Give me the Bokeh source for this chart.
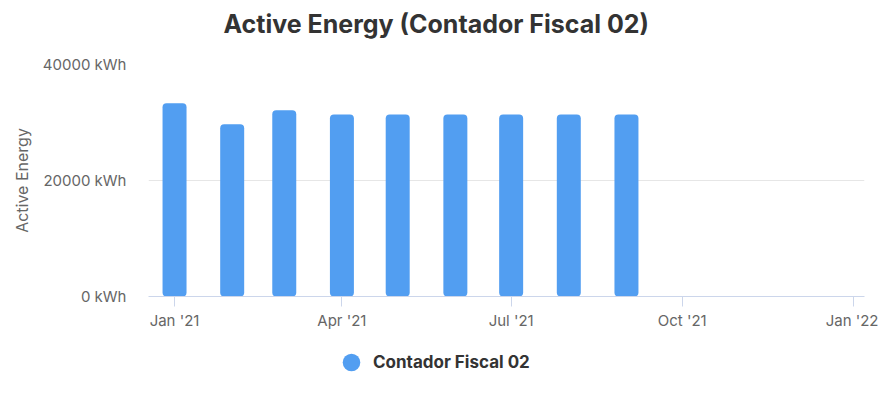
from datetime import datetime
from bokeh.plotting import figure
from bokeh.layouts import column
from bokeh.models import (ColumnDataSource, FixedTicker, DatetimeTickFormatter,
                          PrintfTickFormatter, Legend, LegendItem, Range1d, Title)
from bokeh.embed import file_html
from bokeh.resources import INLINE

# ---- data ----
months = ["2021-01-01", "2021-02-01", "2021-03-01", "2021-04-01", "2021-05-01",
          "2021-06-01", "2021-07-01", "2021-08-01", "2021-09-01"]
energy_kwh = [33300, 29700, 32100, 31400, 31400, 31400, 31400, 31400, 31400]
series_name = "Contador Fiscal 02"
x_tick_dates = ["2021-01-01", "2021-04-01", "2021-07-01", "2021-10-01", "2022-01-01"]
y_ticks = [0, 20000, 40000]
x_start, x_end = "2020-12-18", "2022-01-07"

def ms(s):
    return (datetime.fromisoformat(s) - datetime(1970, 1, 1)).total_seconds() * 1000.0

DAY = 86400000.0
BAR_COLOR = "#529ef1"

src = ColumnDataSource(dict(x=[ms(m) for m in months], y=energy_kwh))

p = figure(frame_width=716, frame_height=232, output_backend="svg", toolbar_location=None,
           x_axis_type="datetime",
           x_range=Range1d(ms(x_start), ms(x_end)),
           y_range=Range1d(0, 40000),
           min_border_left=148, min_border_right=14, min_border_top=64,
           min_border_bottom=34)
p.outline_line_color = None
p.background_fill_color = "white"

bars = p.vbar(x="x", top="y", width=12.9 * DAY, source=src, fill_color=BAR_COLOR,
              line_color=None, border_radius=4)

# spacer between title and frame
p.add_layout(Title(text=" ", text_font_size="10px", standoff=13), "above")

# title
p.title.text = "Active Energy (Contador Fiscal 02)"
p.title.text_font = "Inter"
p.title.text_font_size = "25px"
p.title.text_font_style = "bold"
p.title.text_color = "#333333"
p.title.align = "left"
p.title.offset = 75
p.title.standoff = 0

# grid
p.xgrid.grid_line_color = None
p.ygrid.grid_line_color = "#e6e6e6"
p.ygrid.ticker = FixedTicker(ticks=y_ticks)

# x axis
xa = p.xaxis[0]
xa.ticker = FixedTicker(ticks=[ms(d) for d in x_tick_dates])
xa.formatter = DatetimeTickFormatter(months="%b '%y", days="%b '%y", years="%b '%y")
xa.axis_line_color = "#ccd6eb"
xa.axis_line_width = 1
xa.major_tick_line_color = "#ccd6eb"
xa.major_tick_out = 10
xa.major_tick_in = 0
xa.minor_tick_line_color = None
xa.major_label_standoff = 4
xa.major_label_text_font = "Inter"
xa.major_label_text_font_size = "15px"
xa.major_label_text_color = "#666666"

# y axis
ya = p.yaxis[0]
ya.ticker = FixedTicker(ticks=y_ticks)
ya.formatter = PrintfTickFormatter(format="%d kWh")
ya.axis_line_color = None
ya.major_tick_line_color = None
ya.minor_tick_line_color = None
ya.major_tick_out = 0
ya.major_tick_in = 0
ya.major_label_standoff = 22
ya.major_label_text_font = "Inter"
ya.major_label_text_font_size = "15px"
ya.major_label_text_color = "#666666"
ya.axis_label = "Active Energy"
ya.axis_label_text_font = "Inter"
ya.axis_label_text_font_size = "16px"
ya.axis_label_text_font_style = "normal"
ya.axis_label_text_color = "#666666"
ya.axis_label_standoff = 8

# ---- legend strip below the chart ----
lg = figure(width=878, height=63, output_backend="svg", toolbar_location=None,
            x_axis_location=None, y_axis_location=None,
            min_border_left=0, min_border_right=0, min_border_top=0, min_border_bottom=0)
lg.outline_line_color = None
lg.xgrid.grid_line_color = None
lg.ygrid.grid_line_color = None
dummy = lg.scatter(x="x", y="y", source=src, marker="circle", size=15,
                   fill_color=BAR_COLOR, line_color=None, visible=False)
legend = Legend(items=[LegendItem(label=series_name, renderers=[dummy])],
                location=(181, 11), orientation="horizontal",
                border_line_color=None, background_fill_alpha=0,
                label_text_font="Inter", label_text_font_size="17px",
                label_text_font_style="bold", label_text_color="#333333",
                glyph_width=44, glyph_height=44, label_standoff=0,
                padding=5, margin=0)
lg.add_layout(legend)

layout = column(p, lg, spacing=0)
open("out.html", "w").write(file_html(layout, INLINE))
